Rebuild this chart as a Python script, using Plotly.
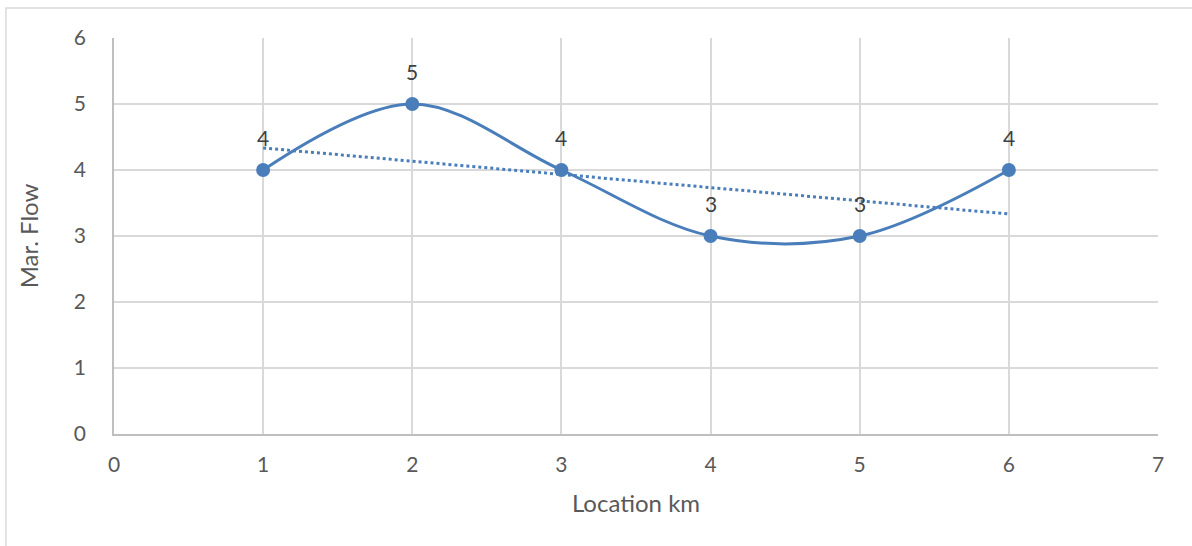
import numpy as np
import plotly.graph_objects as go

# Measurements along the reach
location_km = [1, 2, 3, 4, 5, 6]
mar_flow = [4, 5, 4, 3, 3, 4]

x_ticks = [0, 1, 2, 3, 4, 5, 6, 7]
y_ticks = [0, 1, 2, 3, 4, 5, 6]

LINE_COLOR = "#4a7ebb"
GRID_COLOR = "#d9d9d9"
TEXT_COLOR = "#595959"
FONT = "Lato, 'Open Sans', sans-serif"

# Linear trend through the observations
slope, intercept = np.polyfit(location_km, mar_flow, 1)
trend_x = [location_km[0], location_km[-1]]
trend_y = [slope * v + intercept for v in trend_x]

fig = go.Figure()

fig.add_trace(go.Scatter(
    x=location_km, y=mar_flow,
    mode="lines+markers",
    line=dict(color=LINE_COLOR, width=3, shape="spline", smoothing=1.0),
    marker=dict(color=LINE_COLOR, size=14),
    hoverinfo="skip",
    showlegend=False,
))

fig.add_trace(go.Scatter(
    x=trend_x, y=trend_y,
    mode="lines",
    line=dict(color=LINE_COLOR, width=3, dash="dot"),
    hoverinfo="skip",
    showlegend=False,
))

# Value labels above each point
for xv, yv in zip(location_km, mar_flow):
    fig.add_annotation(
        x=xv, y=yv, text=str(yv), showarrow=False,
        yshift=33, font=dict(family=FONT, size=21, color="#404040"),
    )

# Chart-area frame
fig.add_shape(
    type="rect", xref="paper", yref="paper",
    x0=-0.1035, y0=-0.5, x1=1.2, y1=1.0758,
    line=dict(color=GRID_COLOR, width=1.5), layer="below",
)

fig.update_layout(
    width=1192, height=546,
    margin=dict(l=114, r=34, t=38, b=112),
    paper_bgcolor="white", plot_bgcolor="white",
    font=dict(family=FONT, size=21, color=TEXT_COLOR),
)

fig.update_xaxes(
    range=[0, 7], tickvals=x_ticks, ticktext=[str(t) for t in x_ticks],
    showgrid=True, gridcolor=GRID_COLOR, gridwidth=1.5,
    showline=True, linecolor="#bfbfbf", linewidth=1.5, mirror=False,
    zeroline=False, ticks="", ticklabelstandoff=11,
    title=dict(text="Location km", font=dict(family=FONT, size=24, color=TEXT_COLOR), standoff=20),
)
fig.update_yaxes(
    range=[0, 6], tickvals=y_ticks, ticktext=[str(t) for t in y_ticks],
    showgrid=True, gridcolor=GRID_COLOR, gridwidth=1.5,
    showline=True, linecolor="#bfbfbf", linewidth=1.5,
    zeroline=False, ticks="", ticklabelstandoff=22,
    title=dict(text="Mar. Flow", font=dict(family=FONT, size=24, color=TEXT_COLOR), standoff=28),
)

fig.write_html("out.html")
